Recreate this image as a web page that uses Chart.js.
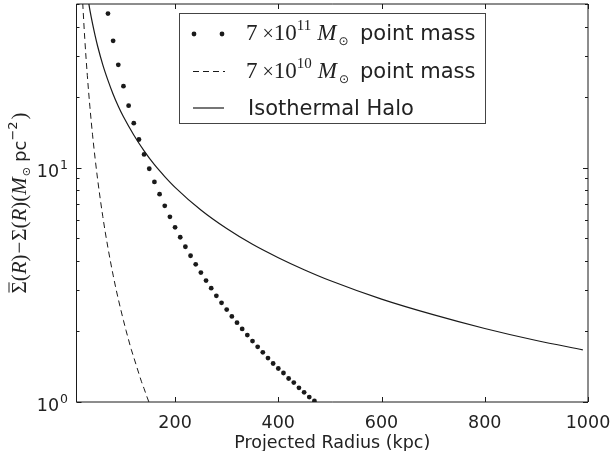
<!DOCTYPE html>
<html>
<head>
<meta charset="utf-8">
<script src="https://cdn.jsdelivr.net/npm/chart.js@4.4.1/dist/chart.umd.min.js"></script>
<style>
  html, body { margin: 0; padding: 0; background: #fff; }
  #wrap { width: 613px; height: 451px; }
</style>
</head>
<body>
<div id="wrap"><canvas id="c" width="613" height="451"></canvas></div>
<script>
// Projected radius (kpc) and excess surface density (M_sun pc^-2)

// 7e11 M_sun point mass, sampled every 10 kpc
const heavyRadius = [70, 80, 90, 100, 110, 120, 130, 140, 150, 160, 170, 180, 190, 200,
  210, 220, 230, 240, 250, 260, 270, 280, 290, 300, 310, 320, 330, 340, 350, 360,
  370, 380, 390, 400, 410, 420, 430, 440, 450, 460, 470];
const heavySigma = [45.5, 34.8, 27.5, 22.3, 18.4, 15.5, 13.2, 11.4, 9.90, 8.70, 7.71, 6.88,
  6.17, 5.57, 5.05, 4.60, 4.21, 3.87, 3.57, 3.30, 3.06, 2.84, 2.65, 2.48, 2.32, 2.18,
  2.05, 1.93, 1.82, 1.72, 1.63, 1.54, 1.46, 1.39, 1.33, 1.26, 1.21, 1.15, 1.10, 1.05, 1.01];

// 7e10 M_sun point mass
const lightRadius = [20, 25, 30, 35, 40, 45, 50, 55, 60, 65, 70, 75, 80, 85, 90, 95, 100,
  105, 110, 115, 120, 125, 130, 135, 140, 145, 150];
const lightSigma = [55.7, 35.7, 24.8, 18.2, 13.9, 11.0, 8.91, 7.37, 6.19, 5.27, 4.55, 3.96,
  3.48, 3.08, 2.75, 2.47, 2.23, 2.02, 1.84, 1.68, 1.55, 1.43, 1.32, 1.22, 1.14, 1.06, 0.99];

// Isothermal halo
const haloRadius = [30, 35, 40, 45, 50, 60, 70, 80, 90, 100, 120, 140, 160, 180, 200, 250,
  300, 350, 400, 450, 500, 600, 700, 800, 900, 990];
const haloSigma = [55.0, 47.1, 41.3, 36.7, 33.0, 27.5, 23.6, 20.6, 18.3, 16.5, 13.8, 11.8,
  10.3, 9.17, 8.25, 6.60, 5.50, 4.71, 4.13, 3.67, 3.30, 2.75, 2.36, 2.06, 1.83, 1.67];

// Axis ticks
const xTicks = [200, 400, 600, 800, 1000];
const yMajorTicks = [1, 10];
const yMajorExp = ['0', '1'];
const yMinorTicks = [2, 3, 4, 5, 6, 7, 8, 9, 20, 30, 40, 50];

const toPoints = (xs, ys) => xs.map((x, i) => ({ x: x, y: ys[i] }));

const INK = '#1a1a1a';
const TEXT = '#222';
const SANS = '"DejaVu Sans", sans-serif';
const SERIF = '"Liberation Serif", "DejaVu Serif", serif';

// Draw a row of text runs with individual fonts and vertical offsets
function runWidth(ctx, runs) {
  let w = 0;
  for (const r of runs) {
    if (r.gap) { w += r.gap; continue; }
    ctx.font = r.f;
    w += ctx.measureText(r.t).width;
  }
  return w;
}
function drawRuns(ctx, x, y, runs) {
  let cx = x;
  for (const r of runs) {
    if (r.gap) { cx += r.gap; continue; }
    ctx.font = r.f;
    const w = ctx.measureText(r.t).width;
    ctx.fillText(r.t, cx, y + (r.dy || 0));
    if (r.bar) {
      ctx.save();
      ctx.lineWidth = 1;
      ctx.beginPath();
      ctx.moveTo(cx + 1, y - r.bar);
      ctx.lineTo(cx + w - 1, y - r.bar);
      ctx.strokeStyle = ctx.fillStyle;
      ctx.stroke();
      ctx.restore();
    }
    cx += w;
  }
  return cx;
}

const decorations = {
  id: 'decorations',
  afterDraw(chart) {
    const ctx = chart.ctx;
    const xs = chart.scales.x, ys = chart.scales.y;
    const area = chart.chartArea;
    const L = Math.round(area.left) - 0.5, R = Math.round(area.right);
    const T = Math.round(area.top), B = Math.round(area.bottom);
    ctx.save();

    // frame
    ctx.strokeStyle = INK;
    ctx.lineWidth = 1;
    ctx.beginPath();
    ctx.moveTo(L, T); ctx.lineTo(R, T); ctx.lineTo(R, B); ctx.lineTo(L, B); ctx.closePath();
    ctx.stroke();

    // x ticks (bottom and top, pointing inward)
    ctx.beginPath();
    for (const v of xTicks) {
      const px = Math.round(xs.getPixelForValue(v)) + 0.5;
      ctx.moveTo(px, B); ctx.lineTo(px, B - 5);
      ctx.moveTo(px, T); ctx.lineTo(px, T + 5);
    }
    // y ticks (left and right)
    for (const v of yMajorTicks) {
      const py = Math.round(ys.getPixelForValue(v)) + 0.5;
      ctx.moveTo(L, py); ctx.lineTo(L + 5, py);
      ctx.moveTo(R, py); ctx.lineTo(R - 5, py);
    }
    for (const v of yMinorTicks) {
      const py = Math.round(ys.getPixelForValue(v)) + 0.5;
      ctx.moveTo(L, py); ctx.lineTo(L + 3, py);
      ctx.moveTo(R, py); ctx.lineTo(R - 3, py);
    }
    ctx.stroke();

    // x tick labels
    ctx.fillStyle = TEXT;
    ctx.font = '17.5px ' + SANS;
    ctx.textAlign = 'center';
    ctx.textBaseline = 'alphabetic';
    for (const v of xTicks) {
      ctx.fillText(String(v), xs.getPixelForValue(v), B + 25.5);
    }

    // y tick labels: 10^n
    ctx.textAlign = 'left';
    yMajorTicks.forEach((v, i) => {
      const py = ys.getPixelForValue(v);
      const runs = [
        { t: '10', f: '17.5px ' + SANS },
        { gap: 1 },
        { t: yMajorExp[i], f: '12.5px ' + SANS, dy: -8 }
      ];
      const w = runWidth(ctx, runs);
      drawRuns(ctx, L - 8.5 - w, py + 9, runs);
    });

    // x axis title
    ctx.textAlign = 'center';
    ctx.font = '17.5px ' + SANS;
    ctx.fillText('Projected Radius (kpc)', (L + R) / 2, B + 45.5);

    // y axis title (rotated)
    ctx.textAlign = 'left';
    const S = '21px ' + SERIF, SI = 'italic 21px ' + SERIF;
    const yl = [
      { t: 'Σ', f: S, bar: 17 },
      { t: '(', f: S },
      { t: 'R', f: SI },
      { t: ')', f: S },
      { gap: 1 },
      { t: '−', f: S },
      { gap: 1 },
      { t: 'Σ', f: S },
      { t: '(', f: S },
      { t: 'R', f: SI },
      { t: ')', f: S },
      { t: '(', f: S },
      { t: 'M', f: SI },
      { gap: 1 },
      { t: '⊙', f: '11px ' + SANS, dy: 4 },
      { gap: 5 },
      { t: 'pc', f: '18px ' + SANS },
      { t: '−2', f: '13px ' + SANS, dy: -9 },
      { gap: 2 },
      { t: ')', f: S }
    ];
    ctx.save();
    ctx.translate(26, 203);
    ctx.rotate(-Math.PI / 2);
    const ylw = runWidth(ctx, yl);
    drawRuns(ctx, -ylw / 2, 0, yl);
    ctx.restore();

    // legend
    const bx = 179.5, by = 13.5, bw = 306, bh = 110;
    ctx.fillStyle = '#fff';
    ctx.fillRect(bx, by, bw, bh);
    ctx.strokeStyle = '#444';
    ctx.lineWidth = 1;
    ctx.strokeRect(bx, by, bw, bh);

    const rows = [40, 77.5, 115];
    ctx.fillStyle = INK;
    // row 1 marker: two dots
    for (const dx of [194, 222]) {
      ctx.beginPath();
      ctx.arc(dx, rows[0] - 6, 2.4, 0, Math.PI * 2);
      ctx.fill();
    }
    // row 2 marker: dashed
    ctx.strokeStyle = INK;
    ctx.setLineDash([6, 4]);
    ctx.beginPath();
    ctx.moveTo(193, rows[1] - 6); ctx.lineTo(225, rows[1] - 6);
    ctx.stroke();
    ctx.setLineDash([]);
    // row 3 marker: solid
    ctx.lineWidth = 1.2;
    ctx.beginPath();
    ctx.moveTo(193, rows[2] - 7); ctx.lineTo(224, rows[2] - 7);
    ctx.stroke();

    ctx.fillStyle = TEXT;
    const massRuns = (exp) => [
      { t: '7', f: '23px ' + SERIF },
      { gap: 5 },
      { t: '×', f: '20px ' + SERIF },
      { t: '10', f: '23px ' + SERIF },
      { t: exp, f: '15px ' + SERIF, dy: -10 },
      { gap: 6 },
      { t: 'M', f: 'italic 23px ' + SERIF },
      { gap: 2 },
      { t: '⊙', f: '12px ' + SANS, dy: 5 }
    ];
    drawRuns(ctx, 246, rows[0], massRuns('11'));
    drawRuns(ctx, 246, rows[1], massRuns('10'));
    ctx.font = '21px ' + SANS;
    ctx.fillText('point mass', 360, rows[0]);
    ctx.fillText('point mass', 360, rows[1]);
    ctx.fillText('Isothermal Halo', 248, rows[2]);

    ctx.restore();
  }
};

new Chart(document.getElementById('c'), {
  type: 'scatter',
  data: {
    datasets: [
      {
        label: '7e11 point mass',
        data: toPoints(heavyRadius, heavySigma),
        showLine: false,
        pointRadius: 2.4,
        pointBackgroundColor: INK,
        pointBorderWidth: 0,
        clip: 0
      },
      {
        label: '7e10 point mass',
        data: toPoints(lightRadius, lightSigma),
        showLine: true,
        borderColor: INK,
        borderWidth: 1,
        borderDash: [6, 4],
        pointRadius: 0,
        cubicInterpolationMode: 'monotone',
        clip: 0
      },
      {
        label: 'Isothermal Halo',
        data: toPoints(haloRadius, haloSigma),
        showLine: true,
        borderColor: INK,
        borderWidth: 1.2,
        pointRadius: 0,
        cubicInterpolationMode: 'monotone',
        clip: 0
      }
    ]
  },
  options: {
    responsive: false,
    animation: false,
    layout: { padding: { left: 77, top: 3, right: 25, bottom: 49 } },
    plugins: { legend: { display: false }, tooltip: { enabled: false } },
    scales: {
      x: { type: 'linear', min: 10, max: 1000, display: false },
      y: { type: 'logarithmic', min: 1, max: 50, display: false }
    }
  },
  plugins: [decorations]
});
</script>
</body>
</html>
